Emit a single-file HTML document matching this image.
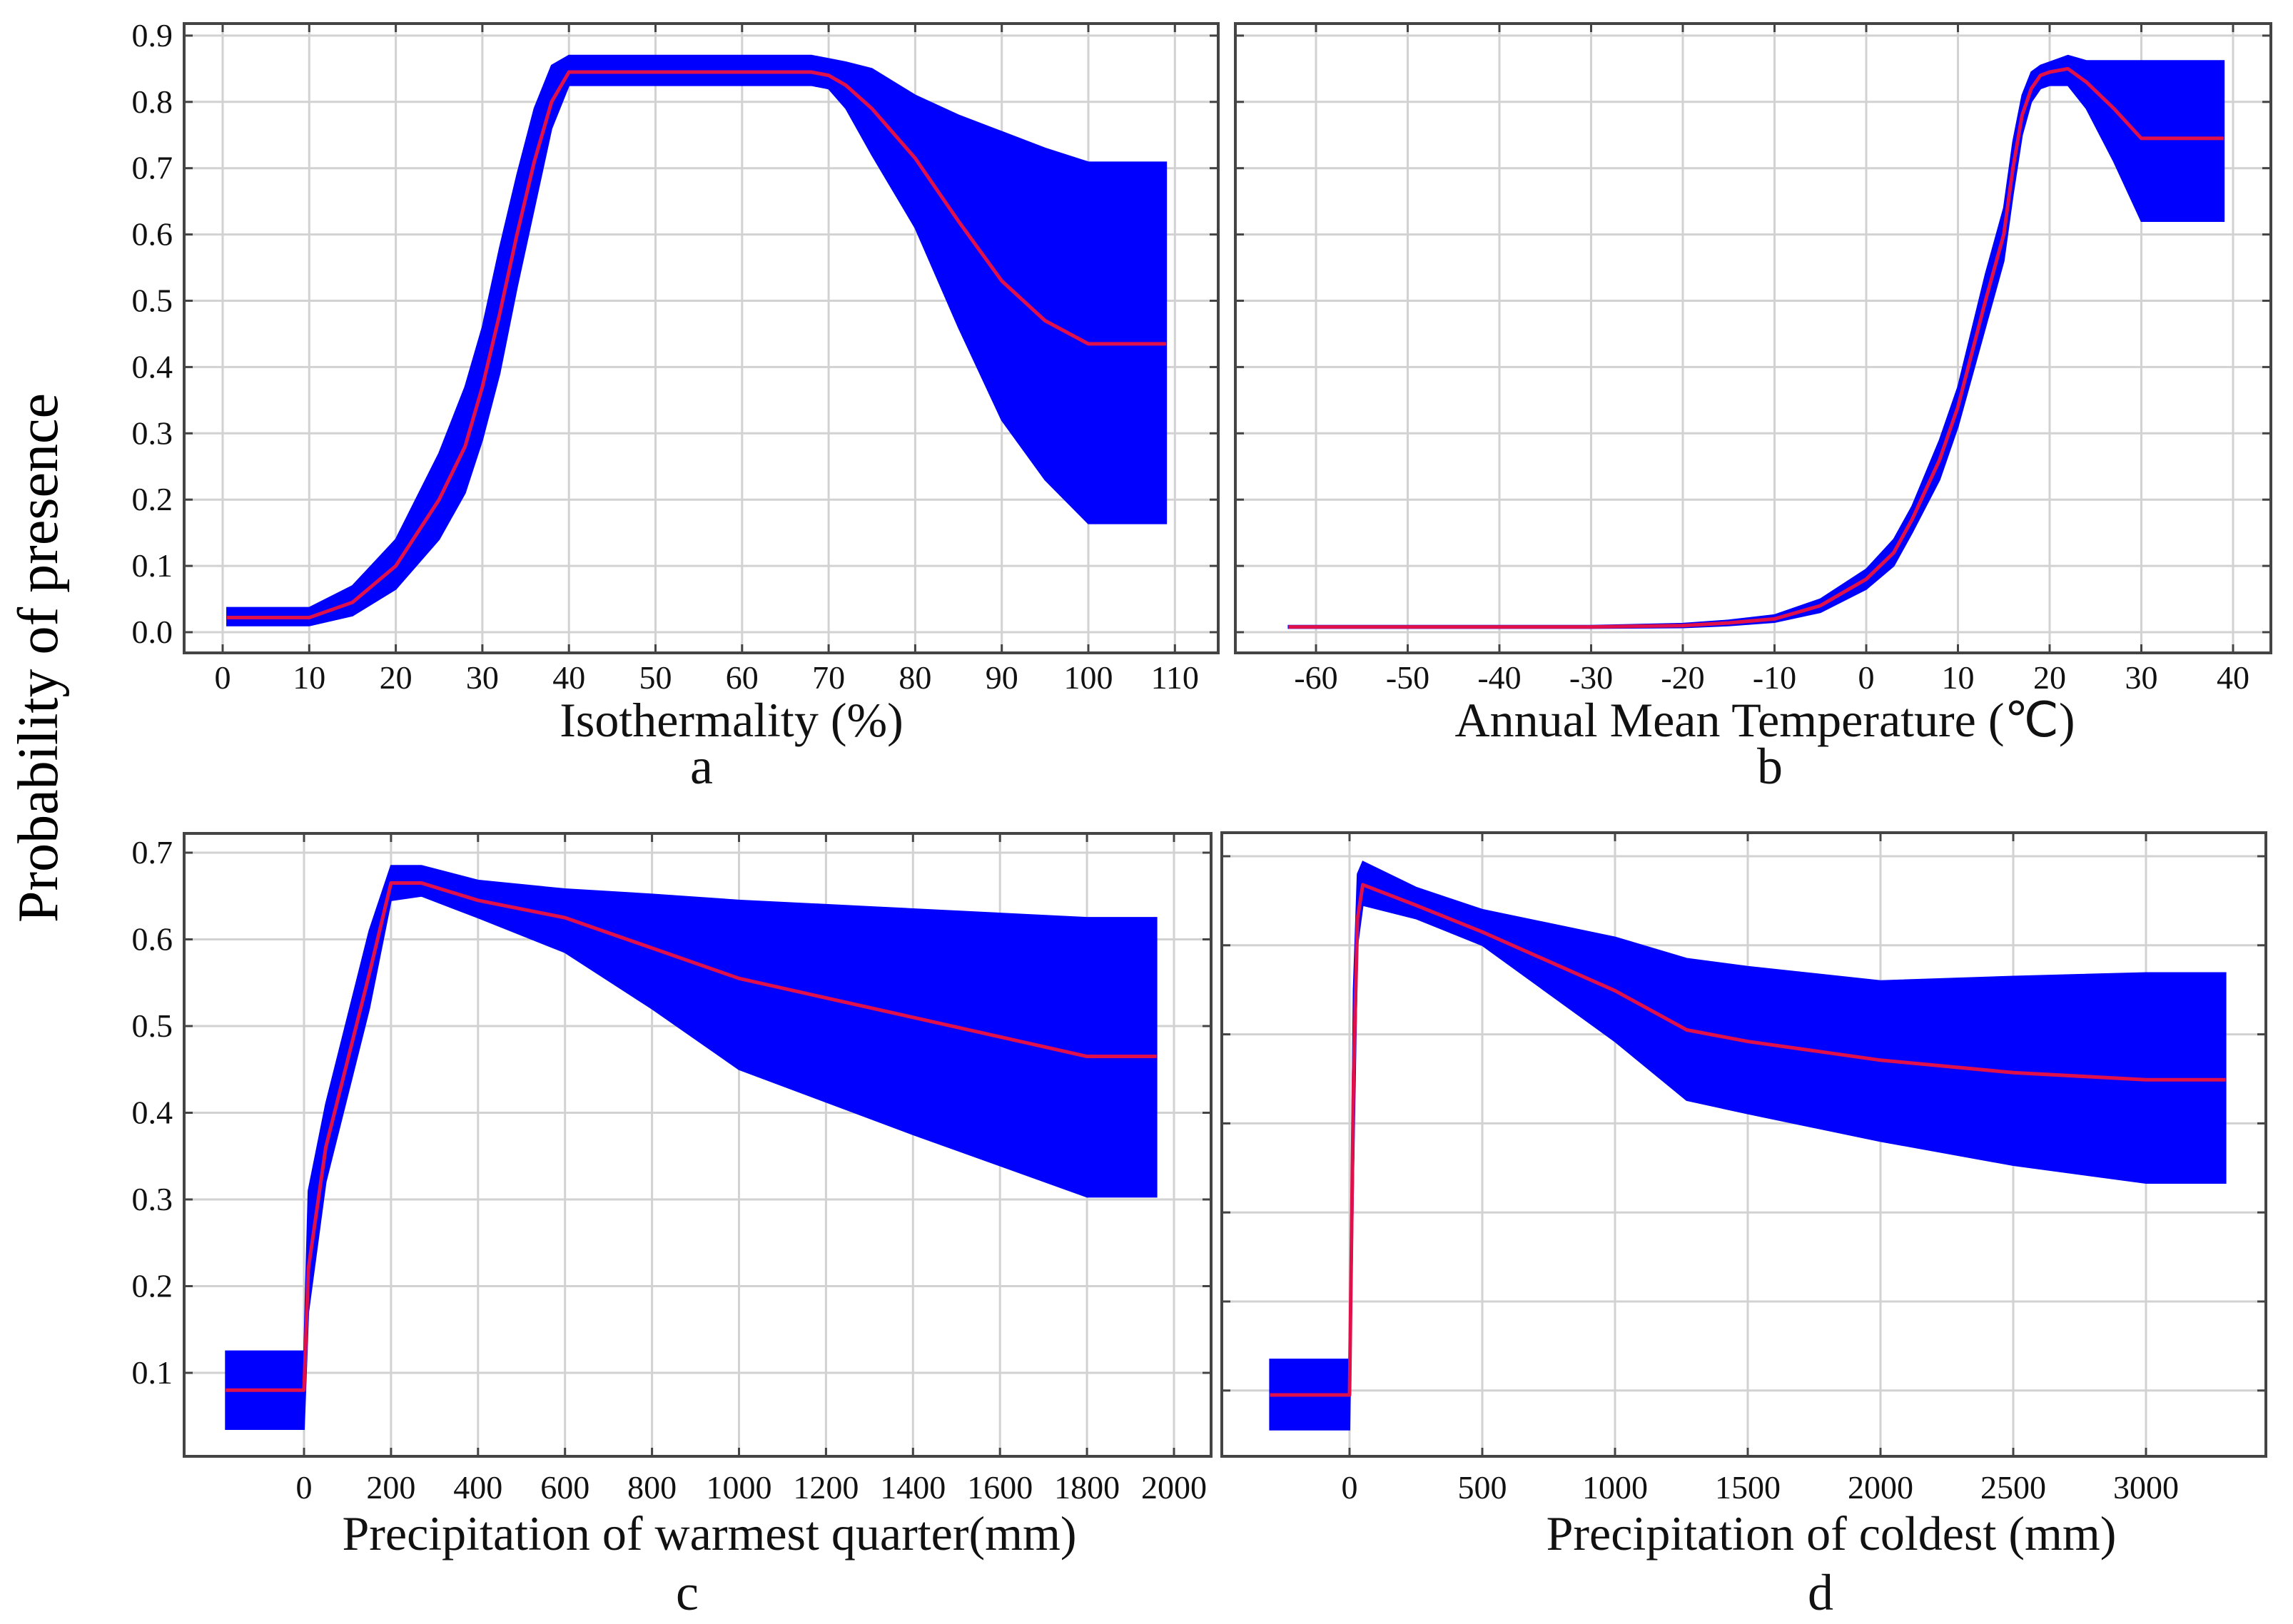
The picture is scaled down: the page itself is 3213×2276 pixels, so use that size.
<!DOCTYPE html>
<html><head><meta charset="utf-8"><style>
html,body{margin:0;padding:0;background:#fff;}
svg{display:block;font-family:"Liberation Serif",serif;}
</style></head><body>
<svg id="fig" width="3213" height="2276" viewBox="0 0 3213 2276" xmlns="http://www.w3.org/2000/svg">
<rect width="3213" height="2276" fill="#fff"/>
<text x="0" y="0" transform="translate(80,922) rotate(-90)" font-size="80" text-anchor="middle">Probability of presence</text>
</svg>
<script>
// Panel a data
const aX=[0.5,10,15,20,25,28,30,32,34,36,38,40,68,70,72,75,80,85,90,95,100,109];
const aMean=[0.022,0.022,0.045,0.10,0.20,0.28,0.37,0.48,0.60,0.71,0.80,0.845,0.845,0.84,0.825,0.79,0.715,0.62,0.53,0.47,0.435,0.435];
const aLo=[0.01,0.01,0.025,0.065,0.14,0.21,0.29,0.39,0.52,0.64,0.76,0.825,0.825,0.82,0.79,0.72,0.61,0.46,0.32,0.23,0.164,0.164];
const aHi=[0.037,0.037,0.07,0.14,0.27,0.37,0.46,0.58,0.69,0.79,0.855,0.87,0.87,0.865,0.86,0.85,0.81,0.78,0.755,0.73,0.709,0.709];
const aXTicks=[0,10,20,30,40,50,60,70,80,90,100,110];
const abYTicks=[0.0,0.1,0.2,0.3,0.4,0.5,0.6,0.7,0.8,0.9];
// Panel b data
const bX=[-63,-30,-20,-15,-10,-5,0,3,5,8,10,13,15,16,17,18,19,20,22,24,27,30,39];
const bMean=[0.008,0.008,0.01,0.014,0.02,0.04,0.08,0.12,0.17,0.26,0.34,0.5,0.6,0.7,0.78,0.82,0.84,0.845,0.85,0.83,0.79,0.745,0.745];
const bLo=[0.006,0.006,0.007,0.01,0.015,0.03,0.065,0.1,0.15,0.23,0.31,0.46,0.56,0.66,0.75,0.8,0.82,0.825,0.825,0.79,0.71,0.62,0.62];
const bHi=[0.01,0.01,0.013,0.018,0.026,0.05,0.095,0.14,0.19,0.29,0.37,0.54,0.64,0.74,0.81,0.845,0.855,0.86,0.87,0.862,0.862,0.862,0.862];
const bXTicks=[-60,-50,-40,-30,-20,-10,0,10,20,30,40];
// Panel c data
const cX=[-180,-5,0,10,50,100,150,200,270,400,600,800,1000,1400,1800,1960];
const cMean=[0.08,0.08,0.08,0.22,0.36,0.46,0.56,0.665,0.665,0.645,0.625,0.59,0.555,0.51,0.465,0.465];
const cLo=[0.035,0.035,0.035,0.17,0.32,0.42,0.52,0.645,0.65,0.625,0.585,0.52,0.45,0.375,0.303,0.303];
const cHi=[0.125,0.125,0.125,0.31,0.41,0.51,0.61,0.685,0.685,0.668,0.658,0.652,0.645,0.635,0.625,0.625];
const cXTicks=[0,200,400,600,800,1000,1200,1400,1600,1800,2000];
const cdYTicks=[0.1,0.2,0.3,0.4,0.5,0.6,0.7];
// Panel d data
const dX=[-300,-5,0,15,30,50,250,500,1000,1270,1500,2000,2500,3000,3300];
const dMean=[0.095,0.095,0.095,0.45,0.63,0.668,0.645,0.615,0.549,0.505,0.492,0.471,0.457,0.449,0.449];
const dLo=[0.056,0.056,0.056,0.35,0.6,0.645,0.63,0.6,0.492,0.426,0.411,0.38,0.353,0.333,0.333];
const dHi=[0.135,0.135,0.135,0.55,0.68,0.694,0.665,0.64,0.609,0.585,0.576,0.56,0.565,0.569,0.569];
const dXTicks=[0,500,1000,1500,2000,2500,3000];

const NS='http://www.w3.org/2000/svg';
const svg=document.getElementById('fig');
function mk(tag,attrs,parent){const e=document.createElementNS(NS,tag);for(const k in attrs)e.setAttribute(k,attrs[k]);(parent||svg).appendChild(e);return e;}

function panel(cfg){
  const g=mk('g',{});
  
  
  const sx=v=>cfg.x0px+(v-cfg.x0v)*cfg.xs;
  const sy=v=>cfg.y0px-(v-cfg.y0v)*cfg.ys;
  const L=cfg.box[0],T=cfg.box[1],R=cfg.box[2],B=cfg.box[3];
  // grid
  cfg.xt.forEach(t=>{const l=mk('line',{x1:sx(t),x2:sx(t),y1:T,y2:B,stroke:'#d2d2d2','stroke-width':3},g);
    
    });
  cfg.yt.forEach(t=>{const l=mk('line',{x1:L,x2:R,y1:sy(t),y2:sy(t),stroke:'#d2d2d2','stroke-width':3},g);
    
    });
  // band
  let d='M'+cfg.X.map((x,i)=>sx(x)+','+sy(cfg.hi[i])).join('L');
  for(let i=cfg.X.length-1;i>=0;i--)d+='L'+sx(cfg.X[i])+','+sy(cfg.lo[i]);
  const band=mk('path',{d:d+'Z',fill:'#0000ff',stroke:'#0000ff','stroke-width':2},g);
  
  
  const line=mk('polyline',{points:cfg.X.map((x,i)=>sx(x)+','+sy(cfg.mean[i])).join(' '),fill:'none',stroke:'#e0104a','stroke-width':5,'stroke-linejoin':'round'},g);
  
  
  // box
  const box=mk('rect',{x:L,y:T,width:R-L,height:B-T,fill:'none',stroke:'#444','stroke-width':4},g);
  
  
  // ticks
  cfg.xt.forEach(t=>{mk('line',{x1:sx(t),x2:sx(t),y1:T,y2:T+12,stroke:'#444','stroke-width':3},g);mk('line',{x1:sx(t),x2:sx(t),y1:B,y2:B-12,stroke:'#444','stroke-width':3},g);
    const tx=mk('text',{x:sx(t),y:cfg.xlabY,'font-size':46,'text-anchor':'middle',fill:'#111'},g);
    
    
    tx.textContent=t;});
  cfg.yt.forEach(t=>{mk('line',{x1:L,x2:L+12,y1:sy(t),y2:sy(t),stroke:'#444','stroke-width':3},g);mk('line',{x1:R,x2:R-12,y1:sy(t),y2:sy(t),stroke:'#444','stroke-width':3},g);
    if(cfg.ylabels){const tx=mk('text',{x:L-16,y:sy(t)+15,'font-size':46,'text-anchor':'end',fill:'#111'},g);
    
    
    tx.textContent=t.toFixed(1);}});
  const ti=mk('text',{x:cfg.titleX,y:cfg.titleY,'font-size':68,'text-anchor':'middle',fill:'#111'},g);
  
  
  ti.textContent=cfg.title;
  const lt=mk('text',{x:cfg.letterX,y:cfg.letterY,'font-size':72,'text-anchor':'middle',fill:'#111'},g);
  
  
  lt.textContent=cfg.id;
}
panel({id:'a',X:aX,mean:aMean,lo:aLo,hi:aHi,xt:aXTicks,yt:abYTicks,box:[258,33,1707,915],x0px:312,x0v:0,xs:12.13,y0px:886,y0v:0,ys:929,xlabY:965,ylabels:true,title:'Isothermality  (%)',titleX:1025,titleY:1032,letterX:983,letterY:1098});
panel({id:'b',X:bX,mean:bMean,lo:bLo,hi:bHi,xt:bXTicks,yt:abYTicks,box:[1731,33,3182,915],x0px:1844,x0v:-60,xs:12.85,y0px:886,y0v:0,ys:929,xlabY:965,ylabels:false,title:'Annual Mean Temperature (℃)',titleX:2473,titleY:1032,letterX:2480,letterY:1098});
panel({id:'c',X:cX,mean:cMean,lo:cLo,hi:cHi,xt:cXTicks,yt:cdYTicks,box:[258,1168,1697,2041],x0px:426,x0v:0,xs:0.6095,y0px:1195,y0v:0.7,ys:1215,xlabY:2100,ylabels:true,title:'Precipitation of warmest quarter(mm)',titleX:994,titleY:2172,letterX:963,letterY:2256});
panel({id:'d',X:dX,mean:dMean,lo:dLo,hi:dHi,xt:dXTicks,yt:cdYTicks,box:[1712,1167,3175,2041],x0px:1891,x0v:0,xs:0.372,y0px:1200,y0v:0.7,ys:1248,xlabY:2100,ylabels:false,title:'Precipitation of coldest (mm)',titleX:2566,titleY:2172,letterX:2551,letterY:2256});
</script>
</body></html>
